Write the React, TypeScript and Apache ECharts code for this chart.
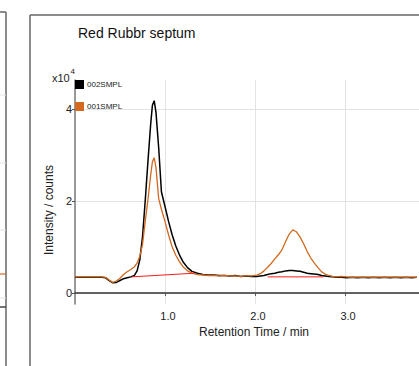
import React, { useEffect, useRef } from "react";
import * as echarts from "echarts";

const times = [0.00, 0.05, 0.10, 0.15, 0.20, 0.25, 0.30, 0.34, 0.38, 0.42, 0.46, 0.50, 0.54, 0.58, 0.62, 0.66, 0.69, 0.72, 0.75, 0.78, 0.81, 0.84, 0.86, 0.88, 0.90, 0.93, 0.96, 1.00, 1.04, 1.08, 1.12, 1.16, 1.20, 1.25, 1.30, 1.36, 1.42, 1.48, 1.54, 1.60, 1.66, 1.72, 1.78, 1.84, 1.90, 1.96, 2.02, 2.06, 2.10, 2.14, 2.18, 2.22, 2.26, 2.30, 2.34, 2.38, 2.42, 2.46, 2.50, 2.54, 2.58, 2.62, 2.66, 2.70, 2.74, 2.78, 2.82, 2.86, 2.90, 2.96, 3.02, 3.08, 3.14, 3.20, 3.26, 3.32, 3.38, 3.44, 3.50, 3.56, 3.62, 3.68, 3.74, 3.80];

// intensity in units of 1e4 counts
const sample002 = [0.34, 0.34, 0.34, 0.34, 0.34, 0.34, 0.34, 0.33, 0.27, 0.22, 0.23, 0.27, 0.31, 0.33, 0.35, 0.38, 0.48, 0.72, 1.22, 2.0, 2.85, 3.65, 4.08, 4.18, 3.92, 3.15, 2.2, 1.88, 1.55, 1.26, 1.02, 0.83, 0.68, 0.55, 0.47, 0.43, 0.40, 0.39, 0.39, 0.38, 0.38, 0.37, 0.38, 0.36, 0.37, 0.36, 0.36, 0.37, 0.38, 0.40, 0.42, 0.43, 0.45, 0.46, 0.48, 0.49, 0.49, 0.48, 0.47, 0.45, 0.43, 0.42, 0.41, 0.40, 0.38, 0.37, 0.36, 0.35, 0.34, 0.34, 0.33, 0.34, 0.33, 0.34, 0.33, 0.34, 0.33, 0.34, 0.33, 0.34, 0.33, 0.34, 0.33, 0.34];

const sample001 = [0.35, 0.35, 0.35, 0.35, 0.35, 0.35, 0.35, 0.34, 0.28, 0.23, 0.26, 0.32, 0.40, 0.46, 0.51, 0.57, 0.65, 0.80, 1.05, 1.55, 2.02, 2.55, 2.85, 2.94, 2.72, 2.05, 1.82, 1.55, 1.26, 1.0, 0.82, 0.68, 0.57, 0.48, 0.43, 0.40, 0.39, 0.38, 0.38, 0.37, 0.38, 0.37, 0.37, 0.36, 0.37, 0.37, 0.39, 0.42, 0.48, 0.56, 0.64, 0.74, 0.83, 0.94, 1.12, 1.28, 1.37, 1.33, 1.22, 1.07, 0.90, 0.76, 0.65, 0.55, 0.46, 0.41, 0.38, 0.36, 0.35, 0.36, 0.35, 0.34, 0.35, 0.34, 0.35, 0.34, 0.35, 0.34, 0.35, 0.34, 0.35, 0.34, 0.35, 0.34];

const baseline1 = [[0.63, 0.35], [1.33, 0.43]];
const baseline2 = [[2.14, 0.35], [2.76, 0.35]];

const yTicks = [0, 2, 4];
const xTicks = [1, 2, 3];

const FONT = "'Liberation Sans', Arial, sans-serif";

export default function App() {
  const ref = useRef<HTMLDivElement>(null);
  useEffect(() => {
    if (!ref.current) return;
    const chart = echarts.init(ref.current, undefined, { renderer: "svg" });
    const line = (x1: number, y1: number, x2: number, y2: number, stroke: string, lineWidth: number) => ({
      type: "line",
      shape: { x1, y1, x2, y2 },
      style: { stroke, lineWidth },
      silent: true,
    });
    chart.setOption({
      animation: false,
      backgroundColor: "#fff",
      textStyle: { fontFamily: FONT },
      grid: { left: 75, right: 0, top: 80, bottom: 62, containLabel: false },
      legend: {
        data: ["002SMPL", "001SMPL"],
        orient: "vertical",
        left: 75,
        top: 80,
        padding: 0,
        itemWidth: 9,
        itemHeight: 9,
        itemGap: 13,
        icon: "rect",
        textStyle: { fontSize: 8, color: "#222", padding: [0, 0, 0, -2] },
      },
      xAxis: {
        type: "value",
        min: 0,
        max: 3.822,
        interval: 1,
        axisLine: { show: true, lineStyle: { color: "#333", width: 1.5 } },
        axisTick: { show: true, length: 3, customValues: xTicks, lineStyle: { color: "#555" } },
        axisLabel: {
          customValues: xTicks,
          fontSize: 11,
          color: "#222",
          margin: 6,
          padding: [0, 0, 0, 6],
          formatter: (v: number) => v.toFixed(1),
        },
        splitLine: { show: true, lineStyle: { color: "#e3e3e3", width: 1 } },
      },
      yAxis: {
        type: "value",
        min: -0.24,
        max: 4.63,
        axisLine: { show: true, onZero: false, lineStyle: { color: "#777", width: 1.5 } },
        axisTick: { show: true, length: 3, customValues: yTicks, lineStyle: { color: "#555" } },
        axisLabel: { customValues: yTicks, fontSize: 11, color: "#222", margin: 3 },
        splitLine: { show: true, lineStyle: { color: "#e3e3e3", width: 1 } },
      },
      graphic: [
        // left partial panel
        line(6, 12, 6, 366, "#666", 1.5),
        line(0, 12, 6, 12, "#666", 1.5),
        line(0, 95, 6, 95, "#e3e3e3", 1),
        line(0, 163, 6, 163, "#e3e3e3", 1),
        line(0, 230, 6, 230, "#e3e3e3", 1),
        line(0, 298, 6, 298, "#e3e3e3", 1),
        line(0, 274, 6, 274, "#d2691e", 1.2),
        line(0, 307, 6, 307, "#444", 1.5),
        // main panel border
        line(30, 15, 30, 366, "#666", 1.5),
        line(30, 15, 419, 15, "#666", 1.5),
        {
          type: "text",
          x: 78,
          y: 33,
          style: { text: "Red Rubbr septum", fontSize: 14, fill: "#111", fontFamily: FONT, textVerticalAlign: "middle" },
        },
        {
          type: "text",
          x: 52,
          y: 78,
          style: { text: "x10", fontSize: 11, fill: "#222", fontFamily: FONT, textVerticalAlign: "middle" },
        },
        {
          type: "text",
          x: 70.5,
          y: 71,
          style: { text: "4", fontSize: 8, fill: "#222", fontFamily: FONT, textVerticalAlign: "middle" },
        },
        {
          type: "text",
          x: 49,
          y: 210,
          rotation: Math.PI / 2,
          style: {
            text: "Intensity / counts",
            fontSize: 12,
            fill: "#222",
            fontFamily: FONT,
            textAlign: "center",
            textVerticalAlign: "middle",
          },
        },
        {
          type: "text",
          x: 254,
          y: 332,
          style: {
            text: "Retention Time / min",
            fontSize: 12,
            fill: "#222",
            fontFamily: FONT,
            textAlign: "center",
            textVerticalAlign: "middle",
          },
        },
      ],
      series: [
        {
          name: "002SMPL",
          type: "line",
          showSymbol: false,
          color: "#000",
          lineStyle: { color: "#000", width: 1.5 },
          data: times.map((t, i) => [t, sample002[i]]),
          z: 3,
        },
        {
          name: "001SMPL",
          type: "line",
          showSymbol: false,
          color: "#d2691e",
          lineStyle: { color: "#d2691e", width: 1.3 },
          data: times.map((t, i) => [t, sample001[i]]),
          z: 4,
        },
        {
          name: "base1",
          type: "line",
          showSymbol: false,
          lineStyle: { color: "#ff1a1a", width: 1 },
          data: baseline1,
          z: 5,
        },
        {
          name: "base2",
          type: "line",
          showSymbol: false,
          lineStyle: { color: "#ff1a1a", width: 1 },
          data: baseline2,
          z: 5,
        },
      ],
    });
    return () => chart.dispose();
  }, []);
  return <div ref={ref} style={{ position: "fixed", left: 0, top: 0, width: 419, height: 366 }} />;
}
